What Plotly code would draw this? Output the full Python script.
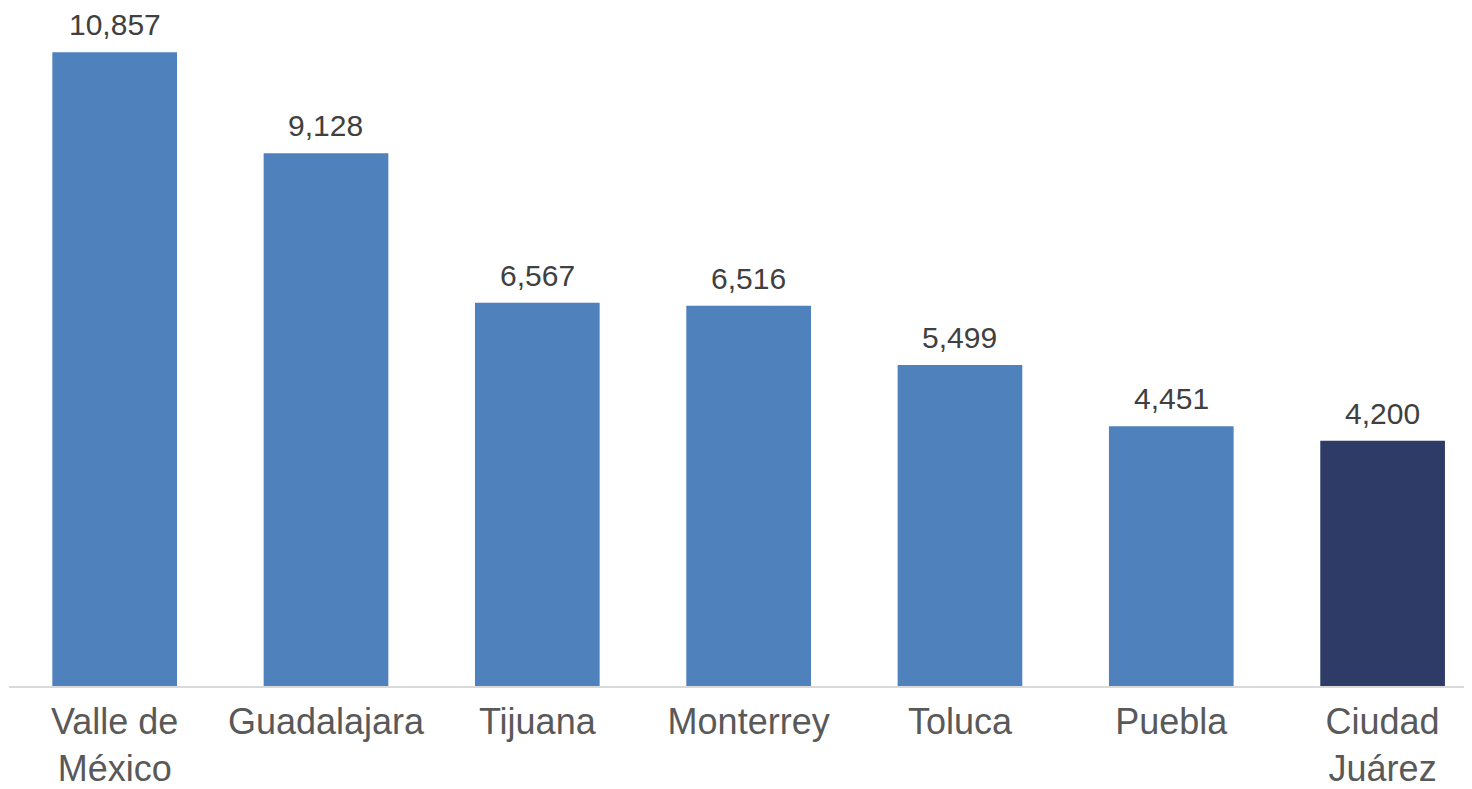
import plotly.graph_objects as go

categories = ["Valle de<br>México", "Guadalajara", "Tijuana", "Monterrey", "Toluca", "Puebla", "Ciudad<br>Juárez"]
values = [10857, 9128, 6567, 6516, 5499, 4451, 4200]
bar_colors = ["#4F81BD"] * 6 + ["#2E3B67"]
value_labels = [f"{v:,}" for v in values]

fig = go.Figure(
    go.Bar(
        x=categories,
        y=values,
        marker=dict(color=bar_colors, line=dict(width=0)),
        width=0.59,
        hoverinfo="x+y",
    )
)

for c, v, t in zip(categories, values, value_labels):
    fig.add_annotation(
        x=c, y=v, text=t, showarrow=False,
        xanchor="center", yanchor="bottom", yshift=9,
        font=dict(family="Liberation Sans, Arial", size=30, color="#404040"),
    )

fig.update_layout(
    width=1464,
    height=781,
    margin=dict(l=1, r=0, t=0, b=103, autoexpand=False),
    plot_bgcolor="white",
    paper_bgcolor="white",
    showlegend=False,
    font=dict(family="Liberation Sans, Arial", color="#595959"),
)
fig.update_xaxes(
    range=[-0.5, 6.423],
    showline=True,
    linecolor="#D9D9D9",
    linewidth=2,
    ticks="",
    tickfont=dict(size=36, color="#595959"),
    ticklabelstandoff=3,
    showgrid=False,
    automargin=False,
)
fig.update_yaxes(
    range=[0, 11616],
    visible=False,
    showgrid=False,
    zeroline=False,
    automargin=False,
)

fig.write_html("out.html")
